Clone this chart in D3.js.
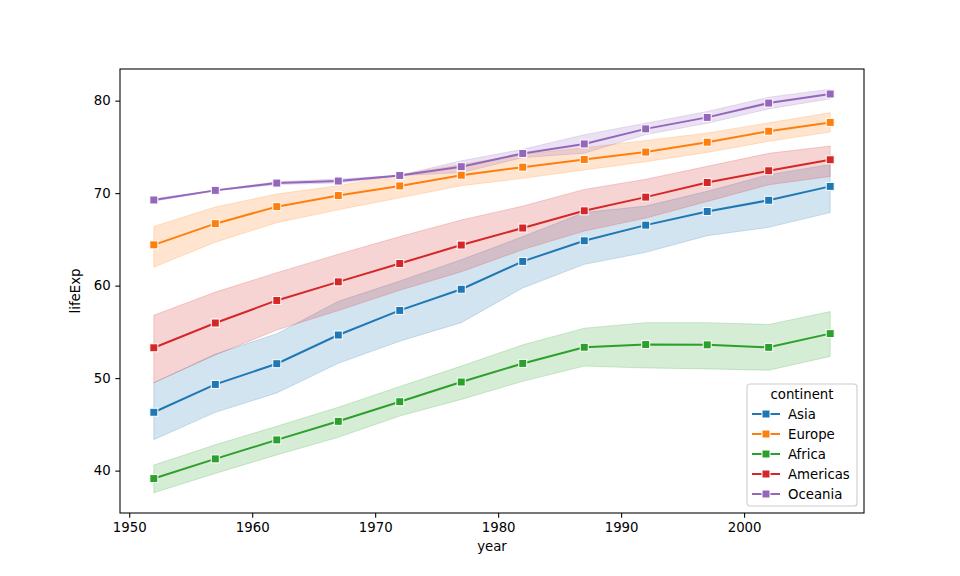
<!DOCTYPE html>
<html>
<head>
<meta charset="utf-8">
<script src="https://cdn.jsdelivr.net/npm/d3@7"></script>
<style>
  body { margin: 0; background: #fff; }
  svg { display: block; font-family: 'DejaVu Sans', sans-serif; }
</style>
</head>
<body>
<svg id="chart" width="960" height="576"></svg>
<script>
// Mean life expectancy per continent, with the 95% band drawn around it
const years = [1952, 1957, 1962, 1967, 1972, 1977, 1982, 1987, 1992, 1997, 2002, 2007];
const continents = ['Asia', 'Europe', 'Africa', 'Americas', 'Oceania'];

const asiaMean = [46.31, 49.32, 51.56, 54.66, 57.32, 59.61, 62.62, 64.85, 66.54, 68.02, 69.23, 70.73];
const asiaLow = [43.35, 46.3, 48.4, 51.6, 54.0, 56.0, 59.75, 62.3, 63.6, 65.4, 66.3, 67.9];
const asiaHigh = [49.5, 52.6, 54.8, 58.3, 60.5, 62.8, 65.3, 67.9, 68.6, 70.2, 72.0, 73.1];

const europeMean = [64.41, 66.70, 68.54, 69.74, 70.78, 71.94, 72.81, 73.64, 74.44, 75.51, 76.70, 77.65];
const europeLow = [62.0, 64.7, 66.8, 68.2, 69.5, 70.8, 71.6, 72.5, 73.4, 74.4, 75.6, 76.6];
const europeHigh = [66.4, 68.5, 69.9, 70.8, 72.0, 73.1, 74.2, 74.9, 75.7, 76.5, 77.6, 78.7];

const africaMean = [39.14, 41.27, 43.32, 45.33, 47.45, 49.58, 51.59, 53.34, 53.63, 53.60, 53.33, 54.81];
const africaLow = [37.6, 39.7, 41.7, 43.6, 45.9, 47.7, 49.65, 51.3, 51.1, 51.0, 50.85, 52.35];
const africaHigh = [40.6, 42.8, 44.8, 46.85, 49.1, 51.3, 53.6, 55.4, 56.0, 56.0, 55.8, 57.2];

const americasMean = [53.28, 55.96, 58.40, 60.41, 62.39, 64.39, 66.23, 68.09, 69.57, 71.15, 72.42, 73.61];
const americasLow = [49.5, 52.5, 55.2, 57.3, 59.5, 61.5, 63.9, 65.9, 67.3, 69.1, 70.9, 71.8];
const americasHigh = [56.8, 59.3, 61.4, 63.4, 65.3, 67.1, 68.6, 70.4, 71.5, 72.9, 74.3, 75.1];

const oceaniaMean = [69.26, 70.30, 71.09, 71.31, 71.91, 72.86, 74.29, 75.32, 76.95, 78.19, 79.74, 80.72];
const oceaniaLow = [69.12, 70.26, 70.93, 71.10, 71.89, 72.22, 73.84, 74.32, 76.33, 77.55, 79.11, 80.20];
const oceaniaHigh = [69.39, 70.33, 71.24, 71.52, 71.93, 73.49, 74.74, 76.32, 77.56, 78.83, 80.37, 81.24];

const xTicks = [1950, 1960, 1970, 1980, 1990, 2000];
const yTicks = [40, 50, 60, 70, 80];

const colors = ['#1f77b4', '#ff7f0e', '#2ca02c', '#d62728', '#9467bd'];

// Build one record per continent
const seriesTable = [
  [asiaMean, asiaLow, asiaHigh],
  [europeMean, europeLow, europeHigh],
  [africaMean, africaLow, africaHigh],
  [americasMean, americasLow, americasHigh],
  [oceaniaMean, oceaniaLow, oceaniaHigh]
];
const series = continents.map((name, i) => ({
  name,
  color: colors[i],
  points: years.map((yr, j) => ({
    year: yr,
    mean: seriesTable[i][0][j],
    low: seriesTable[i][1][j],
    high: seriesTable[i][2][j]
  }))
}));

const margin = { top: 69, right: 96, bottom: 63, left: 120 };
const width = 960 - margin.left - margin.right;
const height = 576 - margin.top - margin.bottom;

const svg = d3.select('#chart');
const g = svg.append('g').attr('transform', `translate(${margin.left},${margin.top})`);

// matplotlib-style 5% padding on both axes
const pad = (lo, hi) => [lo - (hi - lo) * 0.05, hi + (hi - lo) * 0.05];
const allLow = d3.min(series, s => d3.min(s.points, p => p.low));
const allHigh = d3.max(series, s => d3.max(s.points, p => p.high));

const x = d3.scaleLinear().domain(pad(d3.min(years), d3.max(years))).range([0, width]);
const y = d3.scaleLinear().domain(pad(allLow, allHigh)).range([height, 0]);

// Bands first (they sit under every line)
const area = d3.area()
  .x(d => x(d.year))
  .y0(d => y(d.low))
  .y1(d => y(d.high));

g.selectAll('.band')
  .data(series)
  .enter()
  .append('path')
  .attr('class', 'band')
  .attr('d', d => area(d.points))
  .attr('fill', d => d.color)
  .attr('fill-opacity', 0.2)
  .attr('stroke', d => d.color)
  .attr('stroke-opacity', 0.2)
  .attr('stroke-width', 1);

// Lines and square markers
const line = d3.line().x(d => x(d.year)).y(d => y(d.mean));
const markerSize = 8;

series.forEach(s => {
  g.append('path')
    .attr('d', line(s.points))
    .attr('fill', 'none')
    .attr('stroke', s.color)
    .attr('stroke-width', 2);

  g.selectAll(null)
    .data(s.points)
    .enter()
    .append('rect')
    .attr('x', d => x(d.year) - markerSize / 2)
    .attr('y', d => y(d.mean) - markerSize / 2)
    .attr('width', markerSize)
    .attr('height', markerSize)
    .attr('fill', s.color)
    .attr('stroke', '#fff')
    .attr('stroke-width', 1);
});

// Axes
const xAxis = g.append('g')
  .attr('transform', `translate(0,${height})`)
  .call(d3.axisBottom(x).tickValues(xTicks).tickFormat(d3.format('d')).tickSizeOuter(0).tickSize(4.7).tickPadding(4.7));
const yAxis = g.append('g')
  .call(d3.axisLeft(y).tickValues(yTicks).tickSizeOuter(0).tickSize(4.7).tickPadding(4.7));

[xAxis, yAxis].forEach(ax => {
  ax.select('.domain').remove();
  ax.selectAll('line').attr('stroke', '#000').attr('stroke-width', 1.07);
  ax.selectAll('text').attr('font-size', 13.3).attr('fill', '#000').attr('font-family', 'DejaVu Sans');
});

// Frame around the plot area
g.append('rect')
  .attr('width', width)
  .attr('height', height)
  .attr('fill', 'none')
  .attr('stroke', '#000')
  .attr('stroke-width', 1.07);

// Axis titles
g.append('text')
  .attr('x', width / 2)
  .attr('y', height + 38)
  .attr('text-anchor', 'middle')
  .attr('font-size', 13.3)
  .text('year');

g.append('text')
  .attr('transform', `translate(${-40},${height / 2}) rotate(-90)`)
  .attr('text-anchor', 'middle')
  .attr('font-size', 13.3)
  .text('lifeExp');

// Legend, lower right
const legend = svg.append('g').attr('transform', 'translate(747,384)');
legend.append('rect')
  .attr('width', 110)
  .attr('height', 122)
  .attr('rx', 3)
  .attr('fill', '#fff')
  .attr('fill-opacity', 0.8)
  .attr('stroke', '#ccc')
  .attr('stroke-width', 1.07);

legend.append('text')
  .attr('x', 55)
  .attr('y', 15)
  .attr('text-anchor', 'middle')
  .attr('font-size', 13.3)
  .text('continent');

const items = legend.selectAll('.item')
  .data(series)
  .enter()
  .append('g')
  .attr('class', 'item')
  .attr('transform', (d, i) => `translate(0,${30 + i * 20})`);

items.append('line')
  .attr('x1', 5)
  .attr('x2', 33)
  .attr('stroke', d => d.color)
  .attr('stroke-width', 2);

items.append('rect')
  .attr('x', 19 - markerSize / 2)
  .attr('y', -markerSize / 2)
  .attr('width', markerSize)
  .attr('height', markerSize)
  .attr('fill', d => d.color)
  .attr('stroke', '#fff')
  .attr('stroke-width', 1);

items.append('text')
  .attr('x', 41)
  .attr('y', 4.7)
  .attr('font-size', 13.3)
  .text(d => d.name);
</script>
</body>
</html>
